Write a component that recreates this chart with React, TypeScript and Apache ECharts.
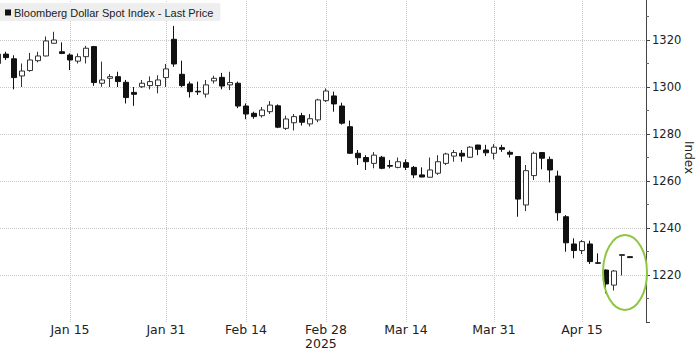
import React, { useEffect, useRef } from "react";
import * as echarts from "echarts";

// ---- data ----
const MONTHS = ["Jan", "Feb", "Mar", "Apr", "May"];
function weekdayLabels(year: number, month: number, day: number, count: number): string[] {
  const out: string[] = [];
  const d = new Date(Date.UTC(year, month, day));
  while (out.length < count) {
    const wd = d.getUTCDay();
    if (wd !== 0 && wd !== 6) out.push(MONTHS[d.getUTCMonth()] + " " + d.getUTCDate());
    d.setUTCDate(d.getUTCDate() + 1);
  }
  return out;
}
// trading days Jan 2 2025 .. Apr 25 2025
const dates = weekdayLabels(2025, 0, 2, 82);
const tickLabels = ["Jan 15", "Jan 31", "Feb 14", "Feb 28", "Mar 14", "Mar 31", "Apr 15"];
const yearLabelAt = "Feb 28";
const yearLabel = "2025";

const opens = [
  1310, 1314, 1312, 1304.7, 1307, 1311.2, 1313.2, 1318.6, 1315, 1313.6,
  1311, 1312.9, 1317.2, 1301.6, 1303.7, 1304.4, 1302, 1297.7, 1300.1, 1300.6,
  1300.6, 1304, 1320.3, 1305.4, 1301.3, 1298.2, 1297, 1302.6, 1304.1, 1300.9,
  1301.6, 1291.9, 1288.8, 1287.8, 1289.5, 1292, 1282.4, 1284.8, 1287.8, 1284.3,
  1286, 1294.2, 1296.2, 1291.9, 1283.1, 1271.8, 1270, 1267.5, 1270.1, 1266.6,
  1265.8, 1267.8, 1265.8, 1262.6, 1261.6, 1263.3, 1267.5, 1270.6, 1271.8, 1270.1,
  1275.3, 1273.2, 1271.8, 1274.2, 1272.2, 1270.4, 1249.8, 1262.3, 1272.1, 1269.2,
  1262.1, 1244.8, 1233.2, 1230.4, 1233.2, 1225.2, 1222.1, 1215.7, 1228.3, 1227.8,
];
const closes = [
  1314, 1312.5, 1304, 1306.8, 1311.5, 1313.2, 1319.6, 1320, 1314.3, 1311.5,
  1312.9, 1316.5, 1301.9, 1303, 1304.4, 1302.3, 1295.5, 1296.9, 1301.6, 1302.3,
  1303, 1307.7, 1309.8, 1300.6, 1298, 1297.9, 1300.9, 1303.7, 1300.4, 1301.9,
  1291.9, 1288.5, 1287.4, 1290.2, 1292.3, 1282.9, 1286.4, 1287.4, 1285, 1286.5,
  1294.5, 1298.3, 1292.8, 1284.6, 1271.8, 1269.9, 1268.2, 1271, 1265.4, 1266.3,
  1268.2, 1265.8, 1262.6, 1261.7, 1264.7, 1268.2, 1271.5, 1272.1, 1270.6, 1274.4,
  1273.5, 1272, 1274.4, 1273.5, 1271.4, 1252.3, 1264.4, 1271.8, 1269.7, 1264.7,
  1246.5, 1233.7, 1230.4, 1234.2, 1225.7, 1225, 1216.2, 1221.7, 1228.7, 1227.4,
];
const lows = [
  1306, 1311.5, 1299, 1300, 1306.5, 1310.5, 1313, 1318.5, 1314, 1307.2,
  1310, 1310, 1300.5, 1300.1, 1300, 1300, 1293, 1292, 1299.6, 1299,
  1297.3, 1300, 1308.6, 1299.9, 1295.5, 1296.6, 1295.5, 1301.5, 1299, 1298.7,
  1291, 1286.3, 1286.5, 1287, 1288.5, 1282.5, 1281.7, 1281.5, 1283.6, 1283.2,
  1285, 1293.6, 1289.5, 1284, 1271.5, 1266.8, 1264.7, 1265.4, 1265, 1265.4,
  1265.4, 1264.7, 1261.2, 1261.6, 1261.5, 1262.6, 1266.8, 1268.2, 1268.2, 1269.8,
  1271, 1270.6, 1269.2, 1272.4, 1270, 1244.8, 1247.2, 1260.4, 1265, 1259.4,
  1243.1, 1229.9, 1227.1, 1228.9, 1224.7, 1224.7, 1212.2, 1213.4, 1219.8, 1227.3,
];
const highs = [
  1316, 1315, 1313.5, 1310, 1314.5, 1315, 1321.5, 1323.5, 1319, 1314.3,
  1314.3, 1317.5, 1317.5, 1310.8, 1305.5, 1306.5, 1303, 1300, 1303, 1304.5,
  1305, 1309.8, 1326, 1311.2, 1302.3, 1302.3, 1303, 1304.8, 1306, 1306.5,
  1302.3, 1293, 1289.5, 1291.5, 1294, 1292.6, 1287.8, 1288.5, 1289, 1288.5,
  1295, 1299.4, 1298, 1293.3, 1285.7, 1273.2, 1271, 1272.3, 1270.7, 1268.9,
  1270, 1269.2, 1266.4, 1265.8, 1270, 1271, 1272, 1273.2, 1273.2, 1274.8,
  1275.4, 1275.4, 1275.7, 1275.4, 1273, 1270.6, 1266.8, 1272.5, 1272.3, 1270.4,
  1264.4, 1245.5, 1235.6, 1234.9, 1234.6, 1229.2, 1222.4, 1222.1, 1228.9, 1227.9,
];

const seriesName = "Bloomberg Dollar Spot Index - Last Price";
const axisName = "Index";
const highlightIndex = 78;
const highlightValue = 1221.5;

const FONT = "'DejaVu Sans', Verdana, sans-serif";
const LEGEND_FONT = "'Liberation Sans', Arial, sans-serif";

export default function App() {
  const ref = useRef<HTMLDivElement>(null);
  useEffect(() => {
    if (!ref.current) return;
    const chart = echarts.init(ref.current, undefined, { renderer: "svg" });
    const tickSet = new Set(tickLabels);
    const candles = opens.map((o, i) => [o, closes[i], lows[i], highs[i]]);
    chart.setOption({
      animation: false,
      backgroundColor: "#ffffff",
      textStyle: { fontFamily: FONT },
      grid: { left: -2, right: 54, top: -7, bottom: 29, containLabel: false, outerBoundsMode: "none" },
      legend: {
        left: 0,
        top: 3,
        backgroundColor: "#eeeeee",
        padding: [4, 7, 3, 5],
        itemWidth: 6,
        itemHeight: 6,
        selectedMode: false,
        textStyle: { fontSize: 11, color: "#222", fontFamily: LEGEND_FONT, padding: [0, 0, 0, -2] },
        data: [{ name: seriesName, icon: "rect", itemStyle: { color: "#111", borderWidth: 0 } }],
      },
      xAxis: {
        type: "category",
        data: dates,
        boundaryGap: false,
        axisLine: { show: false },
        axisTick: { show: false },
        axisLabel: {
          interval: (_i: number, v: string) => tickSet.has(v),
          formatter: (v: string) => (v === yearLabelAt ? `{a|${v}}\n{b|${yearLabel}}` : `{a|${v}}`),
          margin: 0,
          color: "#222",
          fontSize: 12.5,
          fontFamily: FONT,
          rich: {
            a: { fontSize: 12.5, fontFamily: FONT, color: "#222", lineHeight: 14 },
            b: { fontSize: 12.5, fontFamily: FONT, color: "#222", lineHeight: 14, width: 39, align: "left" },
          },
        },
        splitLine: {
          show: true,
          interval: (_i: number, v: string) => tickSet.has(v),
          lineStyle: { type: "dotted", color: "#c8c8c8", width: 1 },
        },
      },
      yAxis: {
        type: "value",
        position: "right",
        min: 1200,
        max: 1340,
        interval: 20,
        name: axisName,
        nameLocation: "middle",
        nameRotate: -90,
        nameGap: 37,
        nameMoveOverlap: false,
        nameTextStyle: { fontSize: 12, color: "#222", fontFamily: FONT },
        axisLine: { show: true, lineStyle: { color: "#444", width: 1 } },
        axisTick: { show: true, length: 4, lineStyle: { color: "#444" } },
        minorTick: { show: true, splitNumber: 2, length: 3, lineStyle: { color: "#666" } },
        axisLabel: {
          margin: 6,
          showMinLabel: false,
          showMaxLabel: false,
          color: "#222",
          fontSize: 11.5,
          fontFamily: FONT,
          formatter: (v: number) => String(v),
        },
        splitLine: {
          show: true,
          showMinLine: false,
          showMaxLine: false,
          lineStyle: { type: "dotted", color: "#c8c8c8", width: 1 },
        },
      },
      series: [
        {
          name: seriesName,
          type: "candlestick",
          data: candles,
          barWidth: 6,
          clip: true,
          itemStyle: {
            color: "#ffffff",
            color0: "#111111",
            borderColor: "#333333",
            borderColor0: "#111111",
            borderWidth: 1,
          },
        },
      ],
    });
    const c = chart.convertToPixel({ xAxisIndex: 0, yAxisIndex: 0 }, [highlightIndex, highlightValue]) as number[];
    if (c && isFinite(c[0])) {
      chart.setOption({
        graphic: [
          {
            type: "ellipse",
            shape: { cx: c[0] + 3, cy: c[1] + 1, rx: 22, ry: 37.5 },
            style: { fill: "none", stroke: "#8dc63f", lineWidth: 2 },
            z: 100,
          },
        ],
      });
    }
    return () => chart.dispose();
  }, []);
  return (
    <div
      ref={ref}
      style={{ position: "fixed", left: 0, top: 0, width: 700, height: 351, background: "#fff" }}
    />
  );
}
